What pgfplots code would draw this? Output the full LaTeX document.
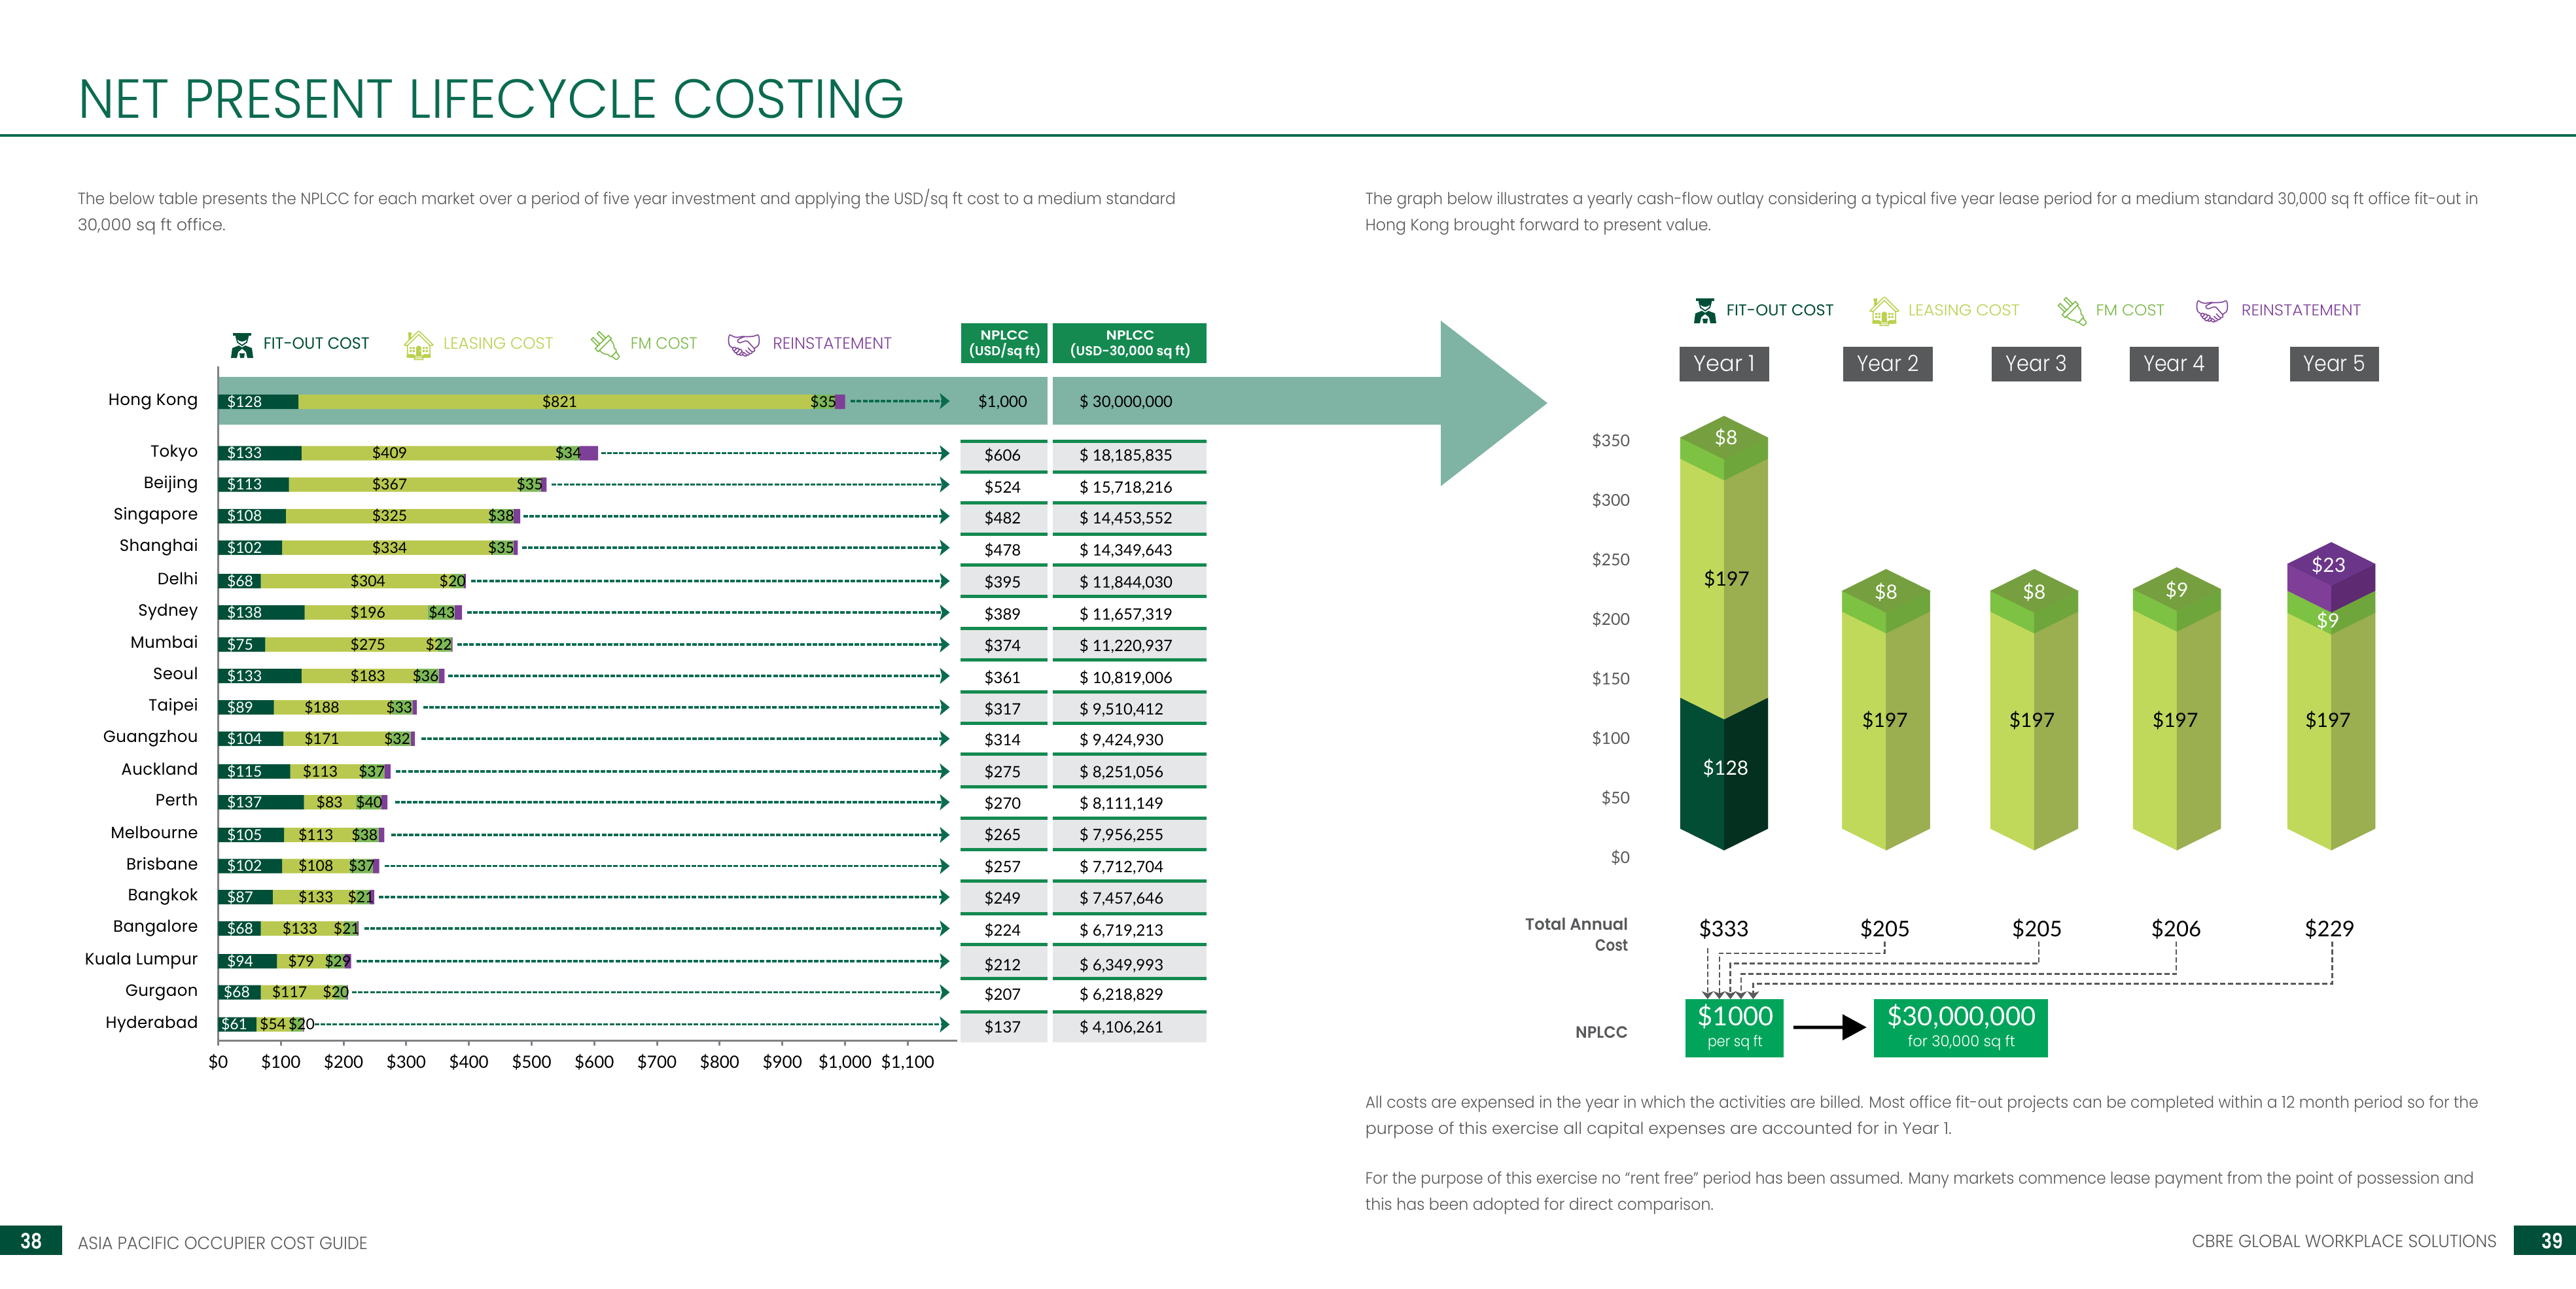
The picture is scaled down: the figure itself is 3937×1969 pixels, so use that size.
\documentclass[border=0pt]{standalone}
\usepackage{fontspec}
\usepackage{graphicx}
\usepackage{pgfplots}
\usepackage{pgfplotstable}
\pgfplotsset{compat=1.18}
\usetikzlibrary{arrows.meta}
\setmainfont{Poppins}[FakeStretch=0.84,UprightFont=* Light,BoldFont=* SemiBold]
\newfontfamily\emoji{Noto Emoji}
\newfontfamily\regf{Poppins}[FakeStretch=0.84]
\newfontfamily\cityf{Poppins}[FakeStretch=0.98,LetterSpace=1.5]
\newfontfamily\numf{Lato}
\newfontfamily\numr{Lato}
\definecolor{cDark}{HTML}{004F38}
\definecolor{cLease}{HTML}{B9C94F}
\definecolor{cFM}{HTML}{7DB857}
\definecolor{cPurple}{HTML}{7E3F98}
\definecolor{cLegLease}{HTML}{BCD04F}
\definecolor{cLegFM}{HTML}{78B843}
\definecolor{cTeal}{HTML}{7FB4A4}
\definecolor{cHead}{HTML}{148A50}
\definecolor{cGreyRow}{HTML}{E6E7E8}
\definecolor{cGreyT}{HTML}{58595B}
\definecolor{cTitle}{HTML}{0B6B50}
\definecolor{cAxis}{HTML}{808285}
\definecolor{cArrow}{HTML}{0B6B50}
\definecolor{cNP}{HTML}{00A45A}
\definecolor{lL}{HTML}{C0D95B}
\definecolor{lR}{HTML}{9BAE50}
\definecolor{fL}{HTML}{7DC242}
\definecolor{fR}{HTML}{6FA63C}
\definecolor{fT}{HTML}{769F3F}
\definecolor{pL}{HTML}{7F3F98}
\definecolor{pR}{HTML}{5E2A72}
\definecolor{pT}{HTML}{6B3589}
\definecolor{dL}{HTML}{034D35}
\definecolor{dR}{HTML}{03301F}
\newcommand\fs[1]{\pgfmathsetlengthmacro\tmpfs{#1*0.25}\fontsize{\tmpfs}{\tmpfs}\selectfont}
\newcommand\Lab[6]{\node[inner sep=0pt,anchor=#2,text=#1] at ({#3},{#4+0.35*#5}) {\fs{#5}#6};}
\newcommand\Fit[7]{\node[inner sep=0pt,anchor=#2,text=#1] at ({#3},{#4+0.35*#5}) {\fs{#5}\resizebox{#6pt}{\height}{#7}};}
\newcommand\Row[3]{\Lab{black}{base}{1532.5}{#1}{24}{{\numf\$#2}}\Lab{black}{base west}{1649}{#1}{24}{{\numf\$ #3}}}
% small worker pictogram: #1 = x centre, #2 = top
\newcommand\worker[2]{\begin{scope}[shift={(#1,#2)}]
 \fill[cDark] (-11,13) arc (180:360:11 and -13) -- cycle;
 \fill[cDark] (-14,13) rectangle (14,17);
 \draw[cDark,line width=0.45pt] (-9,19) -- (-7,27) -- (0,32) -- (7,27) -- (9,19);
 \fill[cDark] (-5,32) -- (-15,36) -- (-17,51) -- (-8,51) -- (-6,42) -- (0,37) -- (6,42) -- (8,51) -- (17,51) -- (15,36) -- (5,32) -- (0,35) -- cycle;
 \fill[cDark] (-4,44) -- (4,44) -- (3,51) -- (-3,51) -- cycle;
 \end{scope}}
\newcommand\prism[5]{%
 \addplot[fill=#4,draw=#4,line width=0.1pt] coordinates {({#1-67},#2)(#1,{#2-18.2})(#1,{#3-18.2})({#1-67},#3)} -- cycle;
 \addplot[fill=#5,draw=#5,line width=0.1pt] coordinates {({#1+67},#2)(#1,{#2-18.2})(#1,{#3-18.2})({#1+67},#3)} -- cycle;
}
\newcommand\ptop[3]{\addplot[fill=#3,draw=#3,line width=0.1pt] coordinates {({#1-67},#2)(#1,{#2-18.2})({#1+67},#2)(#1,{#2+18.2})} -- cycle;}

\pgfplotstableread{
y fit lease fm rein
1355 128 821 35 16
1276.3 133 409 34 30
1228.5 113 367 35 9
1180.2 108 325 38 11
1132 102 334 35 7
1081 68 304 20 3
1033 138 196 43 12
984 75 275 22 2
936 133 183 36 9
888 89 188 33 7
840 104 171 32 7
790 115 113 37 10
743 137 83 40 10
693 105 113 38 9
645.4 102 108 37 10
598 87 133 21 8
550 68 133 21 2
500 94 79 29 10
452.5 68 117 20 2
403.3 61 54 20 2
}\barsdata
\pgfplotstableread{
x y lab
13.4 1355 128
13.4 1276.3 133
13.4 1228.5 113
13.4 1180.2 108
13.4 1132 102
13.4 1081 68
13.4 1033 138
13.4 984 75
13.4 936 133
13.4 888 89
13.4 840 104
13.4 790 115
13.4 743 137
13.4 693 105
13.4 645.4 102
13.4 598 87
13.4 550 68
13.4 500 94
8 452.5 68
4 403.3 61
}\fitlabels
\pgfplotstableread{
x y lab
545 1355 821
273.6 1276.3 409
273.6 1228.5 367
273.6 1180.2 325
273.6 1132 334
239 1081 304
239 1033 196
239 984 275
239 936 183
165.6 888 188
165.6 840 171
163 790 113
177.8 743 83
155.8 693 113
155.8 645.4 108
155.8 598 133
130.5 550 133
132.5 500 79
113.9 452.5 117
87.3 403.3 54
}\leaselabels
\pgfplotstableread{
x y lab
965.5 1355 35
558.6 1276.3 34
497 1228.5 35
451.4 1180.2 38
451.4 1132 35
374 1081 20
356.9 1033 43
352 984 22
331 936 36
289 888 33
285.6 840 32
245 790 37
241 743 40
233.7 693 38
229 645.4 37
227.7 598 21
205 550 21
191 500 29
187.8 452.5 20
133 403.3 20
}\fmlabels

\begin{document}
\begin{tikzpicture}
\begin{scope}[x=0.25pt,y=-0.25pt]
\path[use as bounding box,fill=white] (0,0) rectangle (3937,1969);

% title
\Fit{cTitle}{base west}{119}{151}{84}{315.75}{NET PRESENT LIFECYCLE COSTING}
\fill[cTitle] (0,205) rectangle (3937,209);
% body text
\Fit{cGreyT}{base west}{118}{304}{25}{419.5}{The below table presents the NPLCC for each market over a period of five year investment and applying the USD/sq ft cost to a medium standard}
\Fit{cGreyT}{base west}{118}{344}{25}{56.5}{30,000 sq ft office.}
\Fit{cGreyT}{base west}{2086}{304}{25}{425.25}{The graph below illustrates a yearly cash-flow outlay considering a typical five year lease period for a medium standard 30,000 sq ft office fit-out in}
\Fit{cGreyT}{base west}{2086}{344}{25}{132}{Hong Kong brought forward to present value.}
\Fit{cGreyT}{base west}{2086}{1685}{25}{425.25}{All costs are expensed in the year in which the activities are billed. Most office fit-out projects can be completed within a 12 month period so for the}
\Fit{cGreyT}{base west}{2086}{1725}{25}{224}{purpose of this exercise all capital expenses are accounted for in Year 1.}
\Fit{cGreyT}{base west}{2086}{1801}{25}{423.5}{For the purpose of this exercise no “rent free” period has been assumed. Many markets commence lease payment from the point of possession and}
\Fit{cGreyT}{base west}{2086}{1841}{25}{133}{this has been adopted for direct comparison.}
% footer
\fill[cDark] (0,1873) rectangle (95,1918);
\fill[cDark] (3842,1873) rectangle (3937,1918);
\Lab{white}{base}{48}{1897}{32}{\textbf{38}}
\Lab{white}{base}{3901}{1897}{32}{\textbf{39}}
\Fit{cGreyT}{base west}{118}{1900}{27}{110.75}{ASIA PACIFIC OCCUPIER COST GUIDE}
\Fit{cGreyT}{base east}{3817}{1897}{27}{116.5}{CBRE GLOBAL WORKPLACE SOLUTIONS}

% teal band and arrow
\fill[cTeal] (333,576) rectangle (1601,649);
\fill[cTeal] (1609,576) rectangle (2202,649);
\fill[cTeal] (2202,490) -- (2365,616) -- (2202,743) -- cycle;

% left legend
\worker{370}{496}
\Lab{cLegLease}{base}{640}{528}{44}{{\emoji 🏠}}
\Lab{cLegFM}{base}{925}{528}{44}{{\emoji 🔌}}
\Lab{cPurple}{base}{1137}{528}{44}{{\emoji 🤝}}
\Fit{cDark}{base west}{402}{525}{25}{40.5}{\regf FIT-OUT COST}
\Fit{cLegLease}{base west}{677}{525}{25}{42}{LEASING COST}
\Fit{cLegFM}{base west}{963}{525}{25}{25.5}{FM COST}
\Fit{cPurple}{base west}{1180.5}{525}{25}{45.5}{REINSTATEMENT}

% table head
\fill[cHead] (1469,494) rectangle (1601,555);
\fill[cHead] (1609,494) rectangle (1844,555);
\Fit{white}{base}{1535.7}{512}{20}{18.5}{\textbf{NPLCC}}
\Fit{white}{base}{1535.7}{536}{20}{27.5}{\textbf{(USD/sq ft)}}
\Fit{white}{base}{1727.7}{512}{20}{18.5}{\textbf{NPLCC}}
\Fit{white}{base}{1727.7}{536}{20}{46.25}{\textbf{(USD-30,000 sq ft)}}

% table rows
\foreach \a/\b in {674.5/721.5,768.5/816.5,863.5/911.5,960/1008,1057/1105,1152/1202,1250/1298,1346/1396,1443/1495,1546.5/1592.7}{
  \fill[cGreyRow] (1468,\a) rectangle (1601,\b);
  \fill[cGreyRow] (1609,\a) rectangle (1844,\b);}
\foreach \a in {674.5,721.5,768.5,816.5,863.5,911.5,960,1008,1057,1105,1152,1202,1250,1298,1346,1396,1443,1495,1546.5}{
  \fill[cHead] (1468,\a-2.5) rectangle (1601,\a+2.5);
  \fill[cHead] (1609,\a-2.5) rectangle (1844,\a+2.5);}
\Row{614}{1,000}{30,000,000}
\Row{696}{606}{18,185,835}
\Row{745}{524}{15,718,216}
\Row{792}{482}{14,453,552}
\Row{841}{478}{14,349,643}
\Row{890}{395}{11,844,030}
\Row{939}{389}{11,657,319}
\Row{987}{374}{11,220,937}
\Row{1036}{361}{10,819,006}
\Row{1084}{317}{9,510,412}
\Row{1131}{314}{9,424,930}
\Row{1180}{275}{8,251,056}
\Row{1228}{270}{8,111,149}
\Row{1276}{265}{7,956,255}
\Row{1325}{257}{7,712,704}
\Row{1373}{249}{7,457,646}
\Row{1422}{224}{6,719,213}
\Row{1475}{212}{6,349,993}
\Row{1520}{207}{6,218,829}
\Row{1570}{137}{4,106,261}
\end{scope}

% left chart: stacked bars
\begin{axis}[at={(83.35pt,-397.5pt)},anchor=south west,scale only axis,
  width=282.4pt,height=257.5pt,xmin=0,xmax=1179,ymin=379,ymax=1409,
  xbar stacked,bar width=5.5pt,clip=false,
  axis x line=bottom,axis y line=left,
  axis line style={-,color=cAxis,line width=0.75pt},
  xtick={0,100,...,1100},
  xticklabels={\$0,\$100,\$200,\$300,\$400,\$500,\$600,\$700,\$800,\$900,{\$1,000},{\$1,100}},
  x tick style={color=cAxis,line width=0.75pt},major tick length=2pt,tick align=outside,
  xticklabel style={font=\numr\fs{26},text=black,inner sep=0pt,yshift=-3pt},
  ytick={403.3,452.5,500,550,598,645.4,693,743,790,840,888,936,984,1033,1081,1132,1180.2,1228.5,1276.3,1355},
  yticklabels={Hyderabad,Gurgaon,Kuala Lumpur,Bangalore,Bangkok,Brisbane,Melbourne,Perth,Auckland,Guangzhou,Taipei,Seoul,Mumbai,Sydney,Delhi,Shanghai,Singapore,Beijing,Tokyo,Hong Kong},
  y tick style={draw=none},
  yticklabel style={font=\cityf\fs{25},text=black,inner sep=0pt,xshift=-5.5pt,anchor=east,text height=4.4pt,text depth=1.5pt},
]
\addplot[fill=cDark,draw=none] table[x=fit,y=y] {\barsdata};
\addplot[fill=cLease,draw=none] table[x=lease,y=y] {\barsdata};
\addplot[fill=cFM,draw=none] table[x=fm,y=y] {\barsdata};
\addplot[fill=cPurple,draw=none] table[x=rein,y=y] {\barsdata};
\end{axis}
% left chart: value labels and leaders
\begin{axis}[at={(83.35pt,-397.5pt)},anchor=south west,scale only axis,
  width=282.4pt,height=257.5pt,xmin=0,xmax=1179,ymin=379,ymax=1409,
  hide axis,clip=false,
  every node near coord/.append style={font=\numr\fs{23},inner sep=0pt},
  leader/.style={color=cArrow,line width=0.85pt,dash pattern=on 1.75pt off 0.55pt,
     -{Stealth[length=3.75pt,width=6pt,inset=0.8pt]}},
]
\addplot[draw=none,point meta=explicit symbolic,nodes near coords={\$\pgfplotspointmeta},
   nodes near coords style={anchor=west,text=white}] table[x=x,y=y,meta=lab] {\fitlabels};
\addplot[draw=none,point meta=explicit symbolic,nodes near coords={\$\pgfplotspointmeta},
   nodes near coords style={anchor=center,text=black}] table[x=x,y=y,meta=lab] {\leaselabels};
\addplot[draw=none,point meta=explicit symbolic,nodes near coords={\$\pgfplotspointmeta},
   nodes near coords style={anchor=center,text=black}] table[x=x,y=y,meta=lab] {\fmlabels};
\addplot[leader] coordinates {(1009,1356)(1167,1356)};
\addplot[leader] coordinates {(611,1276.3)(1167,1276.3)};
\addplot[leader] coordinates {(532,1228.5)(1167,1228.5)};
\addplot[leader] coordinates {(487,1180.2)(1167,1180.2)};
\addplot[leader] coordinates {(484.7,1132)(1167,1132)};
\addplot[leader] coordinates {(403.6,1081)(1167,1081)};
\addplot[leader] coordinates {(397,1033)(1167,1033)};
\addplot[leader] coordinates {(381.5,984)(1167,984)};
\addplot[leader] coordinates {(366.8,936)(1167,936)};
\addplot[leader] coordinates {(327,888)(1167,888)};
\addplot[leader] coordinates {(324,840)(1167,840)};
\addplot[leader] coordinates {(283.6,790)(1167,790)};
\addplot[leader] coordinates {(282,743)(1167,743)};
\addplot[leader] coordinates {(275.7,693)(1167,693)};
\addplot[leader] coordinates {(265.6,645.4)(1167,645.4)};
\addplot[leader] coordinates {(256.4,598)(1167,598)};
\addplot[leader] coordinates {(233,550)(1167,550)};
\addplot[leader] coordinates {(220.8,500)(1167,500)};
\addplot[leader] coordinates {(213.6,452.5)(1167,452.5)};
\addplot[leader] coordinates {(153.8,403.3)(1167,403.3)};
\end{axis}

% right chart
\begin{axis}[at={(625pt,-327.675pt)},anchor=south west,scale only axis,
  width=300pt,height=177.7pt,xmin=2500,xmax=3700,ymin=0,ymax=390.7,clip=false,
  axis line style={draw=none},tick style={draw=none},xtick=\empty,
  ytick={0,50,100,150,200,250,300,350},
  yticklabels={\$0,\$50,\$100,\$150,\$200,\$250,\$300,\$350},
  yticklabel style={font=\numr\fs{25},text=cGreyT,inner sep=0pt,xshift=-2pt,anchor=east},
]
% year 1: fit-out 128, leasing 197, FM 8
\prism{2635}{24.4}{134.5}{dL}{dR}
\prism{2635}{134.5}{335.2}{lL}{lR}
\prism{2635}{335.2}{352.8}{fL}{fR}
\ptop{2635}{352.8}{fT}
% year 2: leasing 197, FM 8
\prism{2882.6}{24.4}{206.7}{lL}{lR}
\prism{2882.6}{206.7}{224.1}{fL}{fR}
\ptop{2882.6}{224.1}{fT}
% year 3: leasing 197, FM 8
\prism{3109}{24.4}{206.7}{lL}{lR}
\prism{3109}{206.7}{224.1}{fL}{fR}
\ptop{3109}{224.1}{fT}
% year 4: leasing 197, FM 9
\prism{3327}{24.4}{208.2}{lL}{lR}
\prism{3327}{208.2}{225.6}{fL}{fR}
\ptop{3327}{225.6}{fT}
% year 5: leasing 197, FM 9, reinstatement 23
\prism{3563}{24.4}{205.7}{lL}{lR}
\prism{3563}{205.7}{224.3}{fL}{fR}
\prism{3563}{224.3}{246.7}{pL}{pR}
\ptop{3563}{246.7}{pT}
\end{axis}

\begin{scope}[x=0.25pt,y=-0.25pt]
% right legend
\worker{2606}{443}
\Lab{cLegLease}{base}{2880}{476}{44}{{\emoji 🏠}}
\Lab{cLegFM}{base}{3167}{476}{44}{{\emoji 🔌}}
\Lab{cPurple}{base}{3381}{476}{44}{{\emoji 🤝}}
\Fit{cDark}{base west}{2638}{473.6}{24}{41}{\regf FIT-OUT COST}
\Fit{cLegLease}{base west}{2916}{473.6}{24}{42.5}{LEASING COST}
\Fit{cLegFM}{base west}{3202.7}{473.6}{24}{26.25}{FM COST}
\Fit{cPurple}{base west}{3425}{473.6}{24}{45.75}{REINSTATEMENT}
% year boxes
\foreach \a/\b/\t in {2566.7/2704.3/Year 1,2817/2954/Year 2,3044/3181/Year 3,3255/3391/Year 4,3499.5/3636/Year 5}{
  \fill[cGreyT] (\a,529.8) rectangle (\b,582.5);
  \Fit{white}{base}{(\a+\b)/2}{556}{34}{23.5}{\t}}
% segment labels
\Lab{white}{base}{2638}{669}{30}{{\numr\$8}}
\Lab{black}{base}{2639}{885}{30}{{\numf\$197}}
\Lab{white}{base}{2637.5}{1174}{30}{{\numr\$128}}
\Lab{white}{base}{2882.6}{905}{30}{{\numr\$8}}
\Lab{black}{base}{2881}{1101}{30}{{\numf\$197}}
\Lab{white}{base}{3109}{905}{30}{{\numr\$8}}
\Lab{black}{base}{3105.6}{1101}{30}{{\numf\$197}}
\Lab{white}{base}{3327}{902}{30}{{\numr\$9}}
\Lab{black}{base}{3324.6}{1101}{30}{{\numf\$197}}
\Lab{white}{base}{3559}{864}{30}{{\numr\$23}}
\Lab{white}{base}{3558}{949}{30}{{\numr\$9}}
\Lab{black}{base}{3558}{1101}{30}{{\numf\$197}}

% totals
\Fit{cGreyT}{base east}{2489}{1413}{25}{39.25}{\textbf{Total Annual}}
\Fit{cGreyT}{base east}{2489}{1445}{25}{12.5}{\textbf{Cost}}
\Lab{black}{base}{2634.8}{1420}{33}{{\numr\$333}}
\Lab{black}{base}{2881}{1420}{33}{{\numr\$205}}
\Lab{black}{base}{3113.4}{1420}{33}{{\numr\$205}}
\Lab{black}{base}{3326}{1420}{33}{{\numr\$206}}
\Lab{black}{base}{3560.7}{1420}{33}{{\numr\$229}}
% connectors
\begin{scope}[draw=cGreyT,line width=0.6pt,dash pattern=on 2pt off 1pt,-{Stealth[length=3pt,width=4.5pt,inset=0.8pt]}]
\draw (2609.8,1449) -- (2609.8,1527);
\draw (2880.4,1439) -- (2880.4,1457) -- (2627.7,1457) -- (2627.7,1527);
\draw (3116,1439) -- (3116,1472.5) -- (2644.6,1472.5) -- (2644.6,1527);
\draw (3326,1439) -- (3326,1488.6) -- (2660.7,1488.6) -- (2660.7,1527);
\draw (3564.3,1439) -- (3564.3,1503.6) -- (2679.5,1503.6) -- (2679.5,1527);
\end{scope}
% NPLCC
\Fit{cGreyT}{base east}{2489}{1578}{25}{20}{\textbf{NPLCC}}
\fill[cNP] (2575.9,1527) rectangle (2725.9,1615.7);
\fill[cNP] (2864,1527) rectangle (3130.4,1615.7);
\Lab{white}{base}{2652.7}{1553.6}{40}{{\numr\$1000}}
\Fit{white}{base}{2652}{1591}{23}{21}{per sq ft}
\Lab{white}{base}{2998}{1553.6}{40}{{\numr\$30,000,000}}
\Fit{white}{base}{2998}{1591}{23}{41}{for 30,000 sq ft}
\fill[black] (2741,1567.5) -- (2816,1567.5) -- (2816,1550) -- (2852.7,1570) -- (2816,1590) -- (2816,1572.5) -- (2741,1572.5) -- cycle;
\end{scope}
\end{tikzpicture}
\end{document}
